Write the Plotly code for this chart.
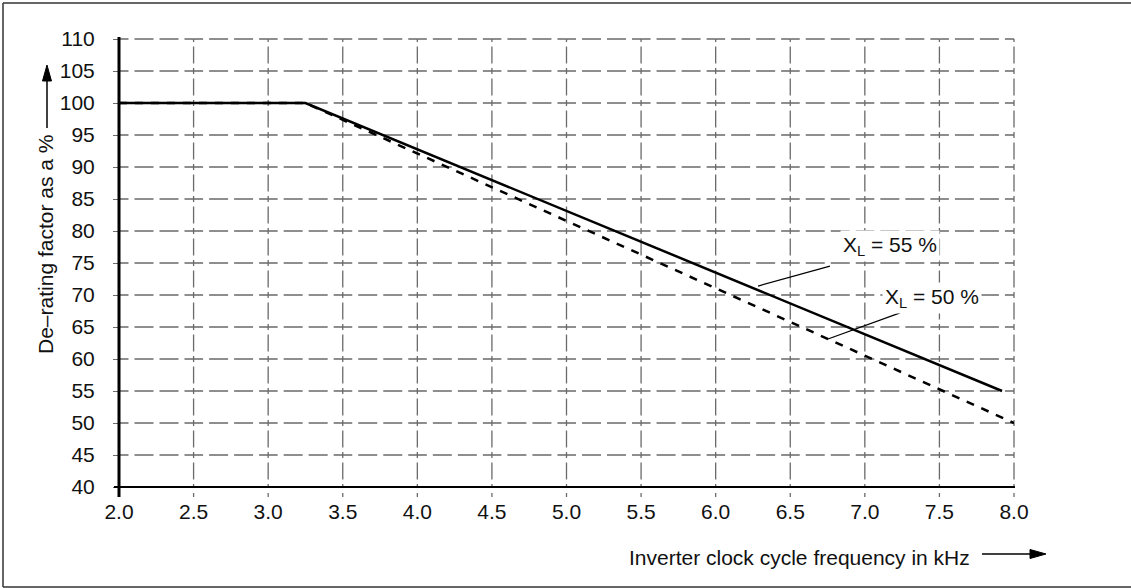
import plotly.graph_objects as go

# De-rating curves (inverter clock cycle frequency in kHz -> de-rating factor in %)
freq_xl55 = [2.0, 3.25, 7.92]
derate_xl55 = [100, 100, 55]
freq_xl50 = [2.0, 3.25, 8.0]
derate_xl50 = [100, 100, 50]

x_ticks = [2.0, 2.5, 3.0, 3.5, 4.0, 4.5, 5.0, 5.5, 6.0, 6.5, 7.0, 7.5, 8.0]
x_tick_text = ["2.0", "2.5", "3.0", "3.5", "4.0", "4.5", "5.0", "5.5", "6.0",
               "6.5", "7.0", "7.5", "8.0"]
y_ticks = [40, 45, 50, 55, 60, 65, 70, 75, 80, 85, 90, 95, 100, 105, 110]

X_RANGE = (2.0, 8.0)
Y_RANGE = (40, 110)

W, H = 1131, 588
M_L, M_R, M_T, M_B = 119, 117, 39, 101
PW = W - M_L - M_R
PH = H - M_T - M_B

FONT = "Liberation Sans, Arial, sans-serif"
FSIZE = 21
GRID = "#6a6a6a"


def xp(v):
    return (v - X_RANGE[0]) / (X_RANGE[1] - X_RANGE[0])


def yp(v):
    return (v - Y_RANGE[0]) / (Y_RANGE[1] - Y_RANGE[0])


def px_x(px):
    return (px - M_L) / PW


def px_y(py):
    return (H - M_B - py) / PH


shapes = []

# dashed grid, drawn cell by cell so every intersection shows a small cross
H_DASH = "9.5px,6px,19px,6px,19px,6px,9.5px"
V_DASH = "3px,4.5px,17px,4.5px,3px"
for yv in y_ticks[1:]:
    for a, b in zip(x_ticks[:-1], x_ticks[1:]):
        shapes.append(dict(type="line", xref="paper", yref="paper",
                           x0=xp(a), x1=xp(b), y0=yp(yv), y1=yp(yv),
                           line=dict(color=GRID, width=1.3, dash=H_DASH),
                           layer="below"))
for xv in x_ticks[1:]:
    for a, b in zip(y_ticks[:-1], y_ticks[1:]):
        shapes.append(dict(type="line", xref="paper", yref="paper",
                           x0=xp(xv), x1=xp(xv), y0=yp(a), y1=yp(b),
                           line=dict(color=GRID, width=1.3, dash=V_DASH),
                           layer="below"))
    # small detached tick below the frequency axis
    shapes.append(dict(type="line", xref="paper", yref="paper",
                       x0=xp(xv), x1=xp(xv), y0=px_y(493), y1=px_y(497),
                       line=dict(color=GRID, width=1.3)))

# axis lines
shapes.append(dict(type="line", xref="paper", yref="paper",
                   x0=0, x1=0, y0=px_y(497), y1=px_y(37),
                   line=dict(color="black", width=3)))
shapes.append(dict(type="line", xref="paper", yref="paper",
                   x0=px_x(114), x1=1 + 1 / PW, y0=0, y1=0,
                   line=dict(color="black", width=2.2)))

# outer frame (top, left, bottom)
fx0, fx1 = px_x(3), px_x(W + 2)
fy0, fy1 = px_y(587), px_y(3)
for x0, x1, y0, y1 in [(fx0, fx1, fy1, fy1), (fx0, fx0, fy0, fy1), (fx0, fx1, fy0, fy0)]:
    shapes.append(dict(type="line", xref="paper", yref="paper",
                       x0=x0, x1=x1, y0=y0, y1=y1,
                       line=dict(color="#333333", width=1.5)))

# axis-direction arrows
def arrow(x_tail, y_tail, x_tip, y_tip, head=16, half=4.5):
    dx, dy = x_tip - x_tail, y_tip - y_tail
    n = (dx * dx + dy * dy) ** 0.5
    ux, uy = dx / n, dy / n
    bx, by = x_tip - ux * head, y_tip - uy * head
    shapes.append(dict(type="line", xref="paper", yref="paper",
                       x0=px_x(x_tail), x1=px_x(bx), y0=px_y(y_tail), y1=px_y(by),
                       line=dict(color="black", width=1.5)))
    pts = [(x_tip, y_tip), (bx - uy * half, by + ux * half), (bx + uy * half, by - ux * half)]
    path = "M " + " L ".join(f"{px_x(x):.5f},{px_y(y):.5f}" for x, y in pts) + " Z"
    shapes.append(dict(type="path", xref="paper", yref="paper", path=path,
                       fillcolor="black", line=dict(color="black", width=1)))


arrow(47, 128, 47, 65)
arrow(982, 554, 1046, 554)

# leader lines from the curve labels
leaders = [((6.766, 74.53), (6.284, 71.4)), ((7.236, 67.19), (6.753, 63.125))]
for (x0, y0), (x1, y1) in leaders:
    shapes.append(dict(type="line", xref="x", yref="y", x0=x0, y0=y0, x1=x1, y1=y1,
                       line=dict(color="black", width=1.3)))

fig = go.Figure()
fig.add_trace(go.Scatter(x=freq_xl50, y=derate_xl50, mode="lines",
                         line=dict(color="black", width=2.5, dash="8px,8px"),
                         name="X<sub>L</sub> = 50 %", showlegend=False))
fig.add_trace(go.Scatter(x=freq_xl55, y=derate_xl55, mode="lines",
                         line=dict(color="black", width=2.5),
                         name="X<sub>L</sub> = 55 %", showlegend=False))

annotations = [
    dict(text="X<sub>L</sub> = 55 %", x=6.833, y=77.6, xref="x", yref="y",
         xanchor="left", yanchor="middle", showarrow=False,
         bgcolor="white", borderpad=2,
         font=dict(family=FONT, size=FSIZE, color="#111111")),
    dict(text="X<sub>L</sub> = 50 %", x=7.115, y=69.6, xref="x", yref="y",
         xanchor="left", yanchor="middle", showarrow=False,
         bgcolor="white", borderpad=2,
         font=dict(family=FONT, size=FSIZE, color="#111111")),
    dict(text="De\u2013rating factor as a %", x=px_x(45), y=px_y(245),
         xref="paper", yref="paper", textangle=-90, showarrow=False,
         xanchor="center", yanchor="middle",
         font=dict(family=FONT, size=FSIZE, color="#111111")),
    dict(text="Inverter clock cycle frequency in kHz", x=px_x(799), y=px_y(557),
         xref="paper", yref="paper", showarrow=False,
         xanchor="center", yanchor="middle",
         font=dict(family=FONT, size=FSIZE, color="#111111")),
]

fig.update_layout(
    width=W, height=H,
    margin=dict(l=M_L, r=M_R, t=M_T, b=M_B, pad=0),
    paper_bgcolor="white", plot_bgcolor="white",
    shapes=shapes, annotations=annotations,
    showlegend=False,
    xaxis=dict(range=list(X_RANGE), tickvals=x_ticks, ticktext=x_tick_text,
               showgrid=False, zeroline=False, showline=False, ticks="",
               ticklabelstandoff=10,
               tickfont=dict(family=FONT, size=FSIZE, color="#111111"), fixedrange=True),
    yaxis=dict(range=list(Y_RANGE), tickvals=y_ticks,
               showgrid=False, zeroline=False, showline=False,
               ticks="outside", ticklen=5, tickwidth=1.3, tickcolor=GRID,
               ticklabelstandoff=14,
               tickfont=dict(family=FONT, size=FSIZE, color="#111111"), fixedrange=True),
)

fig.write_html("out.html")
